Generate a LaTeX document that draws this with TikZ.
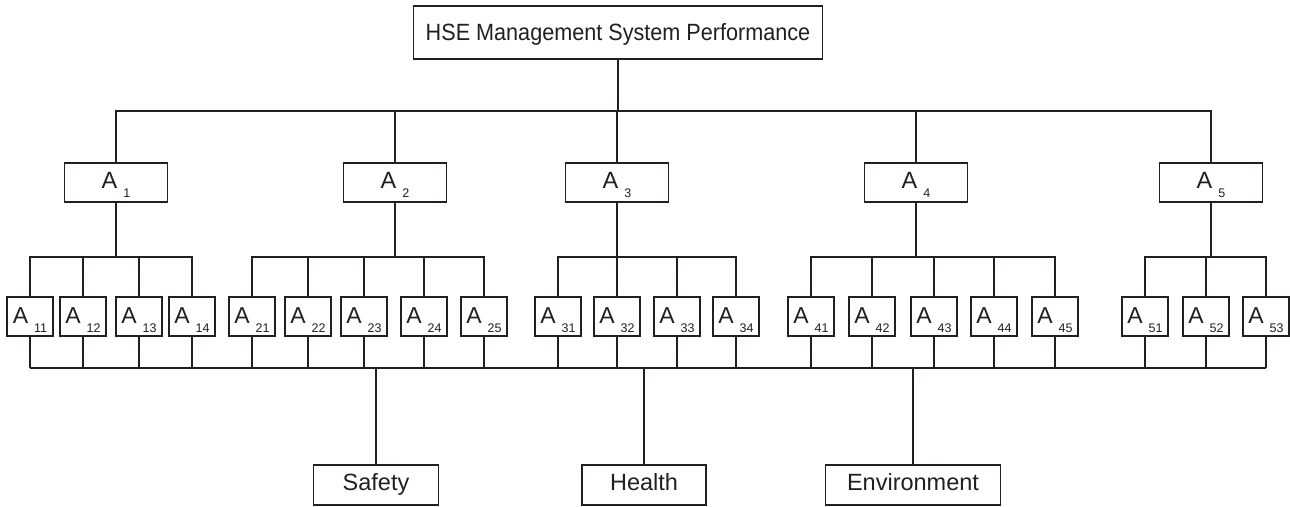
\documentclass[tikz,border=0pt]{standalone}
\usepackage{fontspec}
\setmainfont{Liberation Sans}
\newfontfamily\condfont[FakeStretch=0.92]{Liberation Sans}
\definecolor{ink}{RGB}{35,31,32}
\newcommand{\Asub}[1]{A\hspace{6pt}\raisebox{-9.5pt}[0pt][0pt]{\fontsize{12.5}{12.5}\selectfont #1}}
\tikzset{
  box/.style={draw=ink, line width=1.5pt, text=ink, inner sep=0pt, anchor=center, fill=white},
  topbox/.style={box, minimum width=409pt, minimum height=53pt, font=\condfont\fontsize{23.5}{24}\selectfont, text height=17pt, text depth=2pt},
  midbox/.style={box, minimum width=103pt, minimum height=39pt, font=\fontsize{23.5}{25}\selectfont, text height=16pt, text depth=5pt},
  leafbox/.style={box, minimum width=46pt, minimum height=39pt, font=\fontsize{23}{25}\selectfont, text height=17pt, text depth=4pt},
  catbox/.style={box, minimum height=40pt, font=\fontsize{23.5}{25}\selectfont, text height=16pt, text depth=6pt},
  conn/.style={draw=ink, line width=1.5pt}
}
\begin{document}
\begin{tikzpicture}[x=1pt,y=-1pt]
\fill[white] (0,0) rectangle (1290,506);
\useasboundingbox (0,0) rectangle (1290,506);

\node[topbox] (top) at (618,32.5) {HSE Management System Performance};

\node[midbox] (a1) at (116,182.5) {\Asub{1}};
\node[midbox] (a2) at (395,182.5) {\Asub{2}};
\node[midbox] (a3) at (617,182.5) {\Asub{3}};
\node[midbox] (a4) at (916,182.5) {\Asub{4}};
\node[midbox] (a5) at (1211,182.5) {\Asub{5}};

\foreach \n/\x in {11/30,12/83,13/139,14/192,
                   21/252,22/308,23/364,24/424,25/484,
                   31/558,32/617,33/677,34/736,
                   41/811,42/872,43/934,44/994,45/1055,
                   51/1145,52/1206,53/1266}
  \node[leafbox] (a\n) at (\x,316.5) {\Asub{\n}};

\node[catbox, minimum width=125pt] (safety) at (376,485) {Safety};
\node[catbox, minimum width=124pt] (health) at (644,485) {Health};
\node[catbox, minimum width=175pt] (env) at (913,485) {Environment};

% level 1 connectors
\coordinate (tbar) at (618,111);
\draw[conn] (top.south) -- (tbar);
\foreach \k in {1,2,3,4,5}
  \draw[conn] (tbar) -| (a\k.north);

% level 2 connectors
\coordinate (gbar) at (0,257);
\foreach \k/\leaves in {1/{11,12,13,14},2/{21,22,23,24,25},3/{31,32,33,34},4/{41,42,43,44,45},5/{51,52,53}}{
  \draw[conn] (a\k.south) -- (a\k.south |- gbar);
  \foreach \m in \leaves
    \draw[conn] (a\k.south |- gbar) -| (a\m.north);
}

% bottom bus
\coordinate (bbar) at (0,368);
\foreach \n in {11,12,13,14,21,22,23,24,25,31,32,33,34,41,42,43,44,45,51,52,53}
  \draw[conn] (a\n.south) -- (a\n.south |- bbar);
\draw[conn] (a11.south |- bbar) -- (a53.south |- bbar);
\foreach \c in {safety,health,env}
  \draw[conn] (\c.north) -- (\c.north |- bbar);
\end{tikzpicture}
\end{document}
